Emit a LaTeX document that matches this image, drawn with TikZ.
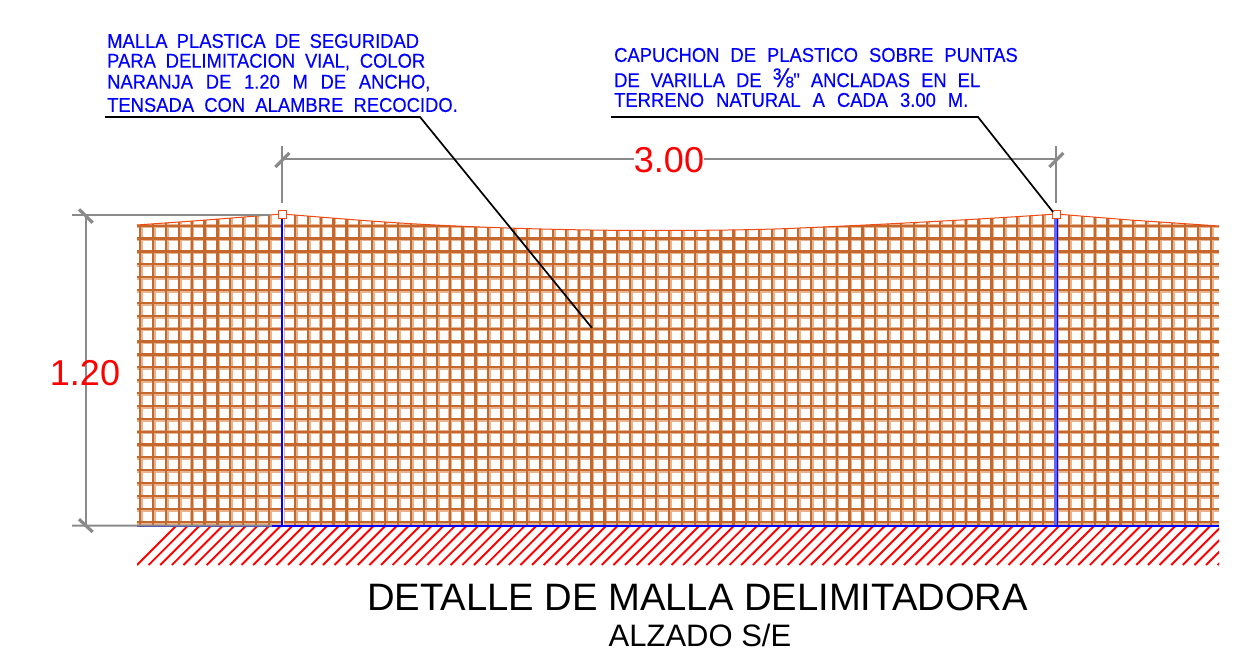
\documentclass[tikz,border=0pt]{standalone}
\usepackage{fontspec}
\setmainfont{Liberation Sans}
\newfontfamily\notefont[FakeStretch=0.92,FakeBold=0.3]{Liberation Sans}
\definecolor{meshdark}{HTML}{C4682E}
\definecolor{meshlight}{HTML}{E8B490}
\definecolor{edgeor}{HTML}{F04A10}
\definecolor{dimgray}{HTML}{8A8A8A}
\definecolor{noteblue}{HTML}{0000FF}
\tikzset{
 meshA/.style={draw=meshlight,line width=4pt},
 meshB/.style={draw=meshdark,line width=2.2pt},
 dimline/.style={draw=dimgray,line width=2pt},
 dimtick/.style={draw=dimgray,line width=3.2pt},
 leader/.style={draw=black,line width=1.7pt},
 notetxt/.style={anchor=west,inner sep=0pt,text=noteblue,font=\notefont\fontsize{20}{20}\selectfont},
 dimtxt/.style={inner sep=0pt,text=red,font=\fontsize{36}{36}\selectfont},
 captxt/.style={inner sep=0pt,text=black},
 capbox/.style={draw=edgeor,fill=white,line width=1pt,minimum size=8pt,inner sep=0pt},
 hatchline/.style={draw=red,line width=1.9pt}
}
\begin{document}
\begin{tikzpicture}[x=1pt,y=-1pt]
\useasboundingbox (0,0) rectangle (1247,668);
\def\topcurve{(137,225) -- (200,220.5) -- (282,214) .. controls (320,217) and (360,220.5) .. (400,223) .. controls (470,227.5) and (570,230.5) .. (650,230.5) .. controls (720,230.5) and (770,229.5) .. (800,228) .. controls (860,225.5) and (980,219.5) .. (1056,214) -- (1130,220) -- (1219,226)}
% mesh
\begin{scope}
\clip \topcurve -- (1219,525) -- (137,525) -- cycle;
\foreach \i in {0,...,83}{
  \pgfmathsetmacro{\xx}{140+12.9*\i}
  \draw[meshA] (\xx+0.8,210) -- (\xx+0.8,526);
}
\foreach \j in {0,...,23}{
  \pgfmathsetmacro{\yy}{225.7+12.87*\j}
  \draw[meshA] (137,\yy+0.8) -- (1219,\yy+0.8);
}
\foreach \i in {0,...,83}{
  \pgfmathsetmacro{\xx}{140+12.9*\i}
  \draw[meshB] (\xx,210) -- (\xx,526);
}
\foreach \j in {0,...,23}{
  \pgfmathsetmacro{\yy}{225.7+12.87*\j}
  \draw[meshB] (137,\yy) -- (1219,\yy);
}
\end{scope}
\draw[edgeor,line width=1pt] \topcurve;
% hatch
\begin{scope}
\clip (137,527) rectangle (1219,565);
\foreach \i in {0,...,96}{
  \pgfmathsetmacro{\xx}{137+11.62*\i}
  \draw[hatchline] (\xx,565) -- (\xx+40,525);
}
\end{scope}
% posts
\coordinate (postAtop) at (282.3,214);
\coordinate (postAbot) at (282.3,525);
\coordinate (postBtop) at (1056.5,214);
\coordinate (postBbot) at (1056.5,525);
\draw[draw=white,line width=3.6pt] (postAtop) -- (postAbot);
\draw[draw=noteblue,line width=1.8pt] ([xshift=-0.6pt]postAtop) -- ([xshift=-0.6pt]postAbot);
\draw[draw=noteblue!60!white,line width=2.6pt] ([xshift=-1.2pt]postBtop) -- ([xshift=-1.2pt]postBbot);
\draw[draw=noteblue,line width=1.5pt] ([xshift=0.9pt]postBtop) -- ([xshift=0.9pt]postBbot);
% ground line
\coordinate (gndA) at (272,525.7);
\coordinate (gndB) at (1219,525.7);
\coordinate (gndL) at (137,526.6);
\draw[draw=noteblue,line width=2.2pt] (gndA) -- (gndB);
\draw[draw=noteblue,line width=0.6pt] (gndL) -- (272,526.6);
% caps
\node[capbox] (capA) at (282.3,214.5) {};
\node[capbox] (capB) at (1056.5,214.5) {};
% dimensions
\coordinate (hL) at (282.3,159);
\coordinate (hR) at (1056.3,159);
\coordinate (hLa) at (282.3,146);
\coordinate (hLb) at (282.3,203);
\coordinate (hRa) at (1056.3,146);
\coordinate (hRb) at (1056.3,203);
\draw[dimline] (hLa) -- (hLb);
\draw[dimline] (hRa) -- (hRb);
\draw[dimline] (hL) -- (hR);
\draw[dimtick] (275.3,167) -- (289.3,153);
\draw[dimtick] (1049.3,167) -- (1063.3,153);
\coordinate (vT) at (86,215.5);
\coordinate (vB) at (86,525.5);
\draw[dimline] (vT) -- (vB);
\draw[dimline] (72,215.5) -- (270,215.5);
\draw[dimline] (72,525.5) -- (gndA);
\draw[dimtick] (79,209.3) -- (92.7,222.7);
\draw[dimtick] (79,519.2) -- (92.7,532);
\node[dimtxt,fill=white] (dimH) at (669,160) {3.00};
\node[dimtxt] (dimV) at (85,373) {1.20};
% leaders
\coordinate (lA0) at (105,117);
\coordinate (lA1) at (420,117);
\coordinate (lA2) at (592,328);
\coordinate (lB0) at (611,117);
\coordinate (lB1) at (978,117);
\coordinate (lB2) at (1053,212);
\draw[leader] (lA0) -- (lA1) -- (lA2);
\draw[leader] (lB0) -- (lB1) -- (lB2);
% notes
\node[notetxt] (n1) at (107,41) {\spaceskip=9.2pt MALLA PLASTICA DE SEGURIDAD};
\node[notetxt] (n2) at (107,62) {\spaceskip=9.8pt PARA DELIMITACION VIAL, COLOR};
\node[notetxt] (n3) at (107,83) {\spaceskip=12.7pt NARANJA DE 1.20 M DE ANCHO,};
\node[notetxt] (n4) at (107,105) {\spaceskip=10.2pt TENSADA CON ALAMBRE RECOCIDO.};
\node[notetxt] (n5) at (614,55) {\spaceskip=11pt CAPUCHON DE PLASTICO SOBRE PUNTAS};
\node[notetxt] (n6) at (614,78) {\spaceskip=11pt DE VARILLA DE \scalebox{1.35}{⅜}" ANCLADAS EN EL};
\node[notetxt] (n7) at (614,100) {\spaceskip=12pt TERRENO NATURAL A CADA 3.00 M.};
% titles
\node[captxt,font=\fontsize{38.2}{38}\selectfont] (title) at (697.5,597) {DETALLE DE MALLA DELIMITADORA};
\node[captxt,font=\fontsize{31}{31}\selectfont] (sub) at (700,635) {ALZADO S/E};
\end{tikzpicture}
\end{document}
